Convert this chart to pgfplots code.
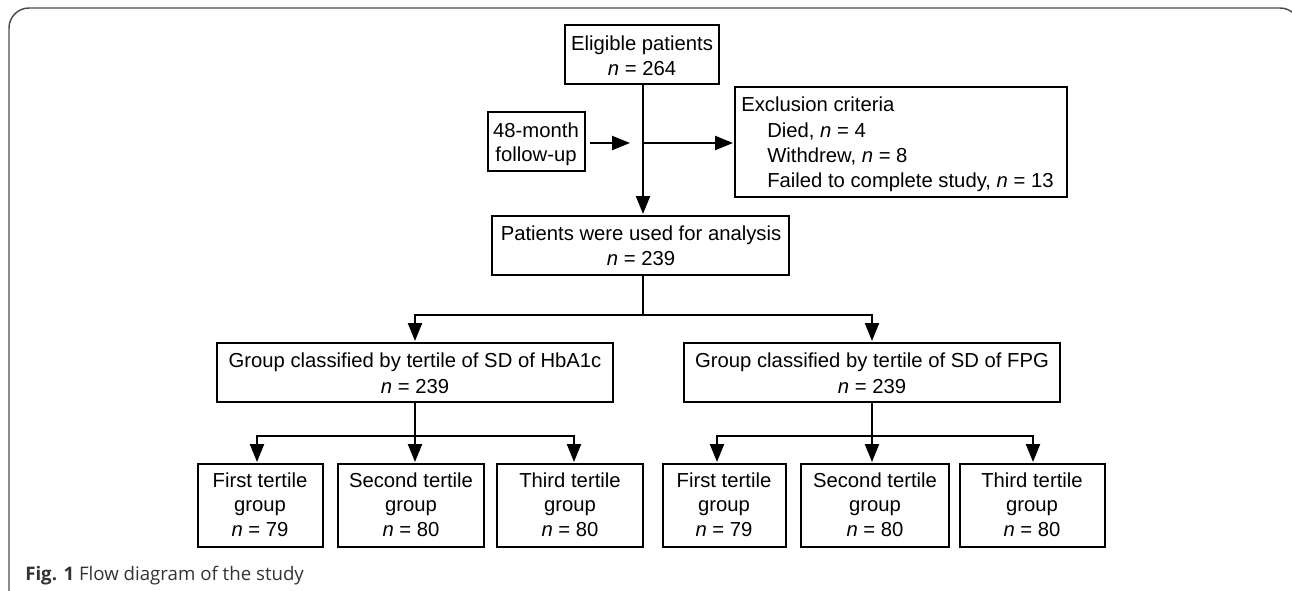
\documentclass[border=0pt]{standalone}
\usepackage{fontspec}
\setmainfont{Liberation Sans}
\newfontfamily\capfont{Open Sans}
\usepackage{pgfplots}
\pgfplotsset{compat=1.18}
\usetikzlibrary{arrows.meta}

% 1 px of the reference = 0.75pt
\pgfplotsset{
    box/.style  = {black, line width=2.1pt, line join=miter, mark=none},
    link/.style = {black, line width=1.7pt, mark=none},
    arr/.style  = {link, -{Triangle[length=13.5pt,width=10.5pt]}},
}
\tikzset{txt/.style = {anchor=base, inner sep=0pt, font=\fontsize{15.2}{18}\selectfont}}

\begin{document}
\begin{tikzpicture}
    \begin{axis}[
        width        = 969pt,
        height       = 442.5pt,
        scale only axis,
        xmin = 0, xmax = 1292,
        ymin = 0, ymax = 590,
        y dir        = reverse,
        hide axis]

        % outer frame
        \addplot[draw=black!70, line width=1.1pt, rounded corners=15pt, mark=none]
            coordinates {(9,600) (9,8) (1300,8) (1300,600)};

        % boxes
        \addplot[box] coordinates {(642,25) (719,25) (719,84) (565,84) (565,25) (642,25)};
        \addplot[box] coordinates {(536,112) (585,112) (585,171) (488,171) (488,112) (536,112)};
        \addplot[box] coordinates {(901,87) (1067,87) (1067,197) (735,197) (735,87) (901,87)};
        \addplot[box] coordinates {(640,216) (789,216) (789,275) (492,275) (492,216) (640,216)};
        \addplot[box] coordinates {(415,343) (613,343) (613,402) (217,402) (217,343) (415,343)};
        \addplot[box] coordinates {(872,343) (1060,343) (1060,402) (684,402) (684,343) (872,343)};
        \addplot[box] coordinates {(260,464) (323,464) (323,547) (198,547) (198,464) (260,464)};
        \addplot[box] coordinates {(411,464) (484,464) (484,547) (338,547) (338,464) (411,464)};
        \addplot[box] coordinates {(570,464) (643,464) (643,547) (497,547) (497,464) (570,464)};
        \addplot[box] coordinates {(724,464) (786,464) (786,547) (663,547) (663,464) (724,464)};
        \addplot[box] coordinates {(875,464) (949,464) (949,547) (801,547) (801,464) (875,464)};
        \addplot[box] coordinates {(1032,464) (1105,464) (1105,547) (960,547) (960,464) (1032,464)};

        % connectors
        \addplot[arr]  coordinates {(643,84) (643,214)};
        \addplot[arr]  coordinates {(590,143) (630,143)};
        \addplot[arr]  coordinates {(643,143) (733,143)};
        \addplot[link] coordinates {(643,275) (643,315)};
        \addplot[link] coordinates {(415,315) (872,315)};
        \addplot[arr]  coordinates {(415,314) (415,341)};
        \addplot[arr]  coordinates {(872,314) (872,341)};
        \addplot[arr]  coordinates {(415,402) (415,462)};
        \addplot[link] coordinates {(257,436) (574,436)};
        \addplot[arr]  coordinates {(257,435) (257,462)};
        \addplot[arr]  coordinates {(574,435) (574,462)};
        \addplot[arr]  coordinates {(872,402) (872,462)};
        \addplot[link] coordinates {(717,436) (1033,436)};
        \addplot[arr]  coordinates {(717,435) (717,462)};
        \addplot[arr]  coordinates {(1033,435) (1033,462)};

        % texts
        \node[txt] at (642,50) {Eligible patients};
        \node[txt] at (642,75) {\textit{n} = 264};
        \node[txt] at (536,137) {48-month};
        \node[txt] at (536,161) {follow-up};
        \node[txt, anchor=base west] at (741,111) {Exclusion criteria};
        \node[txt, anchor=base west] at (767,137) {Died, \textit{n} = 4};
        \node[txt, anchor=base west] at (767,162) {Withdrew, \textit{n} = 8};
        \node[txt, anchor=base west] at (767,187) {Failed to complete study, \textit{n} = 13};
        \node[txt] at (641,240) {Patients were used for analysis};
        \node[txt] at (641,265) {\textit{n} = 239};
        \node[txt] at (415,367) {Group classified by tertile of SD of HbA1c};
        \node[txt] at (415,393) {\textit{n} = 239};
        \node[txt] at (872,367) {Group classified by tertile of SD of FPG};
        \node[txt] at (872,393) {\textit{n} = 239};

        \node[txt] at (260,487) {First tertile};
        \node[txt] at (260,511) {group};
        \node[txt] at (260,536) {\textit{n} = 79};
        \node[txt] at (411,487) {Second tertile};
        \node[txt] at (411,511) {group};
        \node[txt] at (411,536) {\textit{n} = 80};
        \node[txt] at (570,487) {Third tertile};
        \node[txt] at (570,511) {group};
        \node[txt] at (570,536) {\textit{n} = 80};
        \node[txt] at (724,487) {First tertile};
        \node[txt] at (724,511) {group};
        \node[txt] at (724,536) {\textit{n} = 79};
        \node[txt] at (875,487) {Second tertile};
        \node[txt] at (875,511) {group};
        \node[txt] at (875,536) {\textit{n} = 80};
        \node[txt] at (1032,487) {Third tertile};
        \node[txt] at (1032,511) {group};
        \node[txt] at (1032,536) {\textit{n} = 80};

        % caption
        \node[anchor=base west, inner sep=0pt, text=black!80,
              font=\capfont\fontsize{14}{16}\selectfont]
            at (25,580) {\textbf{Fig. 1} Flow diagram of the study};
    \end{axis}
    \pgfresetboundingbox
    \path (current axis.south west) rectangle (current axis.north east);
\end{tikzpicture}
\end{document}
